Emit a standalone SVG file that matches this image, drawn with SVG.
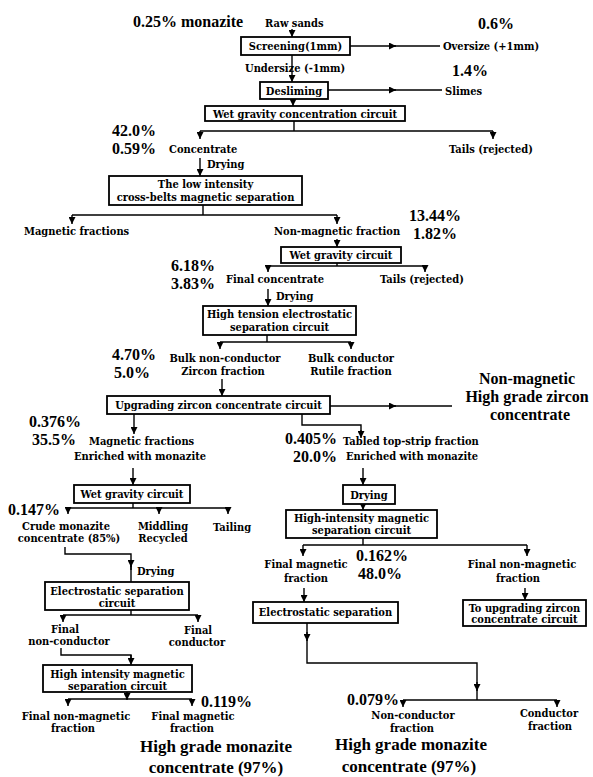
<svg xmlns="http://www.w3.org/2000/svg" width="593" height="777" viewBox="0 0 593 777">
<defs>
<marker id="ah" markerUnits="userSpaceOnUse" markerWidth="8" markerHeight="7" refX="7" refY="3.5" orient="auto">
<path d="M0,0 L7,3.5 L0,7 z" fill="#000"/>
</marker>
<style>
.lb{font-family:"DejaVu Serif Condensed","Liberation Serif",serif;font-weight:bold;font-size:11px;fill:#000}
.pc{font-family:"Liberation Serif","Times New Roman",serif;font-weight:bold;font-size:16px;fill:#000}
.bg{font-family:"Liberation Serif","Times New Roman",serif;font-weight:bold;font-size:17px;fill:#000}
.bz{font-family:"Liberation Serif","Times New Roman",serif;font-weight:bold;font-size:16px;fill:#000}
.c{text-anchor:middle}
.bx{fill:#fff;stroke:#000;stroke-width:1.8}
.ln{fill:none;stroke:#000;stroke-width:1.4}
.ar{fill:none;stroke:#000;stroke-width:1.4;marker-end:url(#ah)}
</style>
</defs>
<rect width="593" height="777" fill="#fff"/>

<g id="connectors">
<path class="ar" d="M292,29 L292,37"/>
<path class="ar" d="M350,46 L396,46"/><path class="ln" d="M394,46 L440,46"/>
<path class="ar" d="M292,55 L292,82"/>
<path class="ar" d="M328,90 L396,90"/><path class="ln" d="M394,90 L442,90"/>
<path class="ar" d="M293,99 L293,106"/>
<path class="ln" d="M294,121 L294,131 M200,131 L493,131"/>
<path class="ar" d="M200,131 L200,139"/><path class="ar" d="M493,131 L493,139"/>
<path class="ar" d="M200,158 L200,176"/>
<path class="ln" d="M203,205 L203,215 M72,215 L337,215"/>
<path class="ar" d="M72,215 L72,224"/><path class="ar" d="M337,215 L337,224"/>
<path class="ar" d="M337,239 L337,247"/>
<path class="ln" d="M337,263 L337,266 M268,266 L425,266"/>
<path class="ar" d="M268,266 L268,272"/><path class="ar" d="M425,266 L425,272"/>
<path class="ar" d="M268,289 L268,306"/>
<path class="ln" d="M267,335 L267,342 M220,342 L351,342"/>
<path class="ar" d="M220,342 L220,349"/><path class="ar" d="M351,342 L351,349"/>
<path class="ar" d="M222,379 L222,396"/>
<path class="ar" d="M330,406 L396,406"/><path class="ln" d="M394,406 L452,406"/>
<path class="ar" d="M134,414 L134,434"/>
<path class="ln" d="M302,414 L302,425 L361,425 L361,432"/><path class="ar" d="M361,430 L361,438"/>
<path class="ar" d="M133,468 L133,485"/>
<path class="ln" d="M133,503 L133,508 M68,508 L228,508"/>
<path class="ar" d="M68,508 L68,514"/><path class="ar" d="M159,508 L159,514"/><path class="ar" d="M228,508 L228,514"/>
<path class="ar" d="M363,468 L363,485"/>
<path class="ar" d="M363,504 L363,510"/>
<path class="ln" d="M363,538 L363,545 M303,545 L527,545"/>
<path class="ar" d="M303,545 L303,556"/><path class="ar" d="M527,545 L527,556"/>
<path class="ln" d="M65,547 L65,554 L131,554 L131,570"/><path class="ar" d="M131,560 L131,567"/><path class="ln" d="M131,566 L131,582"/>
<path class="ln" d="M131,610 L131,615 M63,615 L198,615"/>
<path class="ar" d="M63,615 L63,622"/><path class="ar" d="M198,615 L198,622"/>
<path class="ar" d="M304,588 L304,602"/>
<path class="ar" d="M525,588 L525,600"/>
<path class="ln" d="M307,623 L307,663 L477,663 L477,700"/><path class="ar" d="M307,632 L307,641"/><path class="ar" d="M477,682 L477,691"/>
<path class="ln" d="M61,648 L61,655 L131,655 L131,660"/><path class="ar" d="M131,655 L131,665"/>
<path class="ln" d="M127,692 L127,699 M68,699 L192,699"/>
<path class="ar" d="M68,699 L68,706"/><path class="ar" d="M192,699 L192,706"/><path class="ar" d="M127,692 L127,700"/>
<path class="ln" d="M403,700 L557,700"/>
<path class="ar" d="M403,700 L403,707"/><path class="ar" d="M557,700 L557,707"/>
</g>

<g id="n-feed"><text class="pc" x="133" y="27">0.25% monazite</text><text class="lb" x="265" y="27">Raw sands</text></g>
<g id="n-screening"><rect class="bx" x="241" y="37" width="109" height="18"/><text class="lb c" x="295.5" y="50">Screening(1mm)</text></g>
<g id="n-oversize"><text class="pc" x="478" y="29">0.6%</text><text class="lb" x="443" y="50">Oversize (+1mm)</text></g>
<g id="n-undersize"><text class="lb" x="245" y="72">Undersize (-1mm)</text></g>
<g id="n-desliming"><rect class="bx" x="260" y="82" width="68" height="17"/><text class="lb c" x="294" y="94.5">Desliming</text></g>
<g id="n-slimes"><text class="pc" x="452" y="76">1.4%</text><text class="lb" x="445" y="95">Slimes</text></g>
<g id="n-wgcc"><rect class="bx" x="205" y="106" width="200" height="15"/><text class="lb c" x="305" y="117.5">Wet gravity concentration circuit</text></g>
<g id="n-concentrate"><text class="pc" x="112" y="136">42.0%</text><text class="pc" x="112" y="154">0.59%</text><text class="lb" x="169" y="153">Concentrate</text><text class="lb" x="207" y="168">Drying</text></g>
<g id="n-tails1"><text class="lb" x="449" y="153">Tails (rejected)</text></g>
<g id="n-lims"><rect class="bx" x="109" y="176" width="193" height="29"/><text class="lb c" x="205.5" y="188">The low intensity</text><text class="lb c" x="205.5" y="201">cross-belts magnetic separation</text></g>
<g id="n-magfrac1"><text class="lb" x="24" y="235">Magnetic fractions</text></g>
<g id="n-nonmag1"><text class="lb" x="274" y="235">Non-magnetic fraction</text><text class="pc" x="409" y="221">13.44%</text><text class="pc" x="413" y="239">1.82%</text></g>
<g id="n-wgc1"><rect class="bx" x="281" y="247" width="120" height="16"/><text class="lb c" x="341" y="259">Wet gravity circuit</text></g>
<g id="n-finalconc"><text class="pc" x="171" y="271">6.18%</text><text class="pc" x="171" y="289">3.83%</text><text class="lb" x="226" y="283">Final concentrate</text><text class="lb" x="276" y="300">Drying</text></g>
<g id="n-tails2"><text class="lb" x="380" y="283">Tails (rejected)</text></g>
<g id="n-htes"><rect class="bx" x="203" y="306" width="153" height="29"/><text class="lb c" x="279.5" y="318">High tension electrostatic</text><text class="lb c" x="279.5" y="331">separation circuit</text></g>
<g id="n-bulknc"><text class="pc" x="112" y="360">4.70%</text><text class="pc" x="114" y="378">5.0%</text><text class="lb c" x="225" y="362">Bulk non-conductor</text><text class="lb c" x="223" y="375">Zircon fraction</text></g>
<g id="n-bulkc"><text class="lb c" x="351" y="362">Bulk conductor</text><text class="lb c" x="351" y="375">Rutile fraction</text></g>
<g id="n-uzcc"><rect class="bx" x="107" y="396" width="223" height="18"/><text class="lb c" x="218.5" y="409">Upgrading zircon concentrate circuit</text></g>
<g id="n-zircon"><text class="bz c" x="527" y="384">Non-magnetic</text><text class="bz c" x="527" y="402">High grade zircon</text><text class="bz c" x="530" y="420">concentrate</text></g>
<g id="n-magfrac2"><text class="pc" x="29" y="427">0.376%</text><text class="pc" x="32" y="445">35.5%</text><text class="lb" x="89" y="445">Magnetic fractions</text><text class="lb" x="74" y="460">Enriched with monazite</text></g>
<g id="n-tabled"><text class="pc" x="285" y="444">0.405%</text><text class="lb" x="343" y="445">Tabled top-strip fraction</text><text class="pc" x="293" y="462">20.0%</text><text class="lb" x="346" y="460">Enriched with monazite</text></g>
<g id="n-wgc2"><rect class="bx" x="74" y="485" width="116" height="18"/><text class="lb c" x="132" y="498">Wet gravity circuit</text></g>
<g id="n-crude"><text class="pc" x="8" y="515">0.147%</text><text class="lb c" x="66" y="530">Crude monazite</text><text class="lb c" x="69" y="542">concentrate (85%)</text></g>
<g id="n-middling"><text class="lb c" x="163" y="530">Middling</text><text class="lb c" x="163" y="542">Recycled</text></g>
<g id="n-tailing"><text class="lb c" x="232" y="531">Tailing</text></g>
<g id="n-drying"><rect class="bx" x="343" y="485" width="52" height="19"/><text class="lb c" x="369" y="498.5">Drying</text></g>
<g id="n-hims1"><rect class="bx" x="286" y="510" width="151" height="28"/><text class="lb c" x="361.5" y="522">High-intensity magnetic</text><text class="lb c" x="361.5" y="534">separation circuit</text></g>
<g id="n-drying2"><text class="lb" x="137" y="575">Drying</text></g>
<g id="n-finalmag1"><text class="lb c" x="306" y="568">Final magnetic</text><text class="lb c" x="306" y="582">fraction</text><text class="pc" x="356" y="561">0.162%</text><text class="pc" x="358" y="579">48.0%</text></g>
<g id="n-finalnonmag1"><text class="lb c" x="522" y="568">Final non-magnetic</text><text class="lb c" x="518" y="582">fraction</text></g>
<g id="n-esc"><rect class="bx" x="45" y="582" width="144" height="28"/><text class="lb c" x="117" y="595">Electrostatic separation</text><text class="lb c" x="117" y="607">circuit</text></g>
<g id="n-es"><rect class="bx" x="253" y="602" width="145" height="21"/><text class="lb c" x="325.5" y="616">Electrostatic separation</text></g>
<g id="n-toupgrade"><rect class="bx" x="463" y="600" width="123" height="26"/><text class="lb c" x="524.5" y="611.5">To upgrading zircon</text><text class="lb c" x="524.5" y="623">concentrate circuit</text></g>
<g id="n-finalnc"><text class="lb c" x="65" y="633">Final</text><text class="lb c" x="69" y="645">non-conductor</text></g>
<g id="n-finalc"><text class="lb c" x="198" y="634">Final</text><text class="lb c" x="197" y="646">conductor</text></g>
<g id="n-hims2"><rect class="bx" x="43" y="665" width="149" height="27"/><text class="lb c" x="117.5" y="678">High intensity magnetic</text><text class="lb c" x="117.5" y="689.5">separation circuit</text></g>
<g id="n-finalnonmag2"><text class="lb c" x="76" y="720">Final non-magnetic</text><text class="lb c" x="73" y="732">fraction</text></g>
<g id="n-finalmag2"><text class="pc" x="201" y="707">0.119%</text><text class="lb c" x="193" y="720">Final magnetic</text><text class="lb c" x="192" y="732">fraction</text></g>
<g id="n-product1"><text class="bg c" x="216" y="752">High grade monazite</text><text class="bg c" x="216" y="773">concentrate (97%)</text></g>
<g id="n-nc"><text class="pc" x="347" y="705">0.079%</text><text class="lb c" x="413" y="719">Non-conductor</text><text class="lb c" x="412" y="732">fraction</text></g>
<g id="n-cond"><text class="lb c" x="549" y="717">Conductor</text><text class="lb c" x="550" y="730">fraction</text></g>
<g id="n-product2"><text class="bg c" x="411" y="750">High grade monazite</text><text class="bg c" x="409" y="772">concentrate (97%)</text></g>
</svg>
